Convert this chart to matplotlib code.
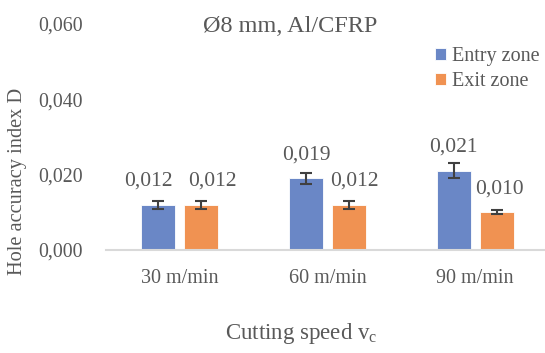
import matplotlib
matplotlib.use('Agg')
import matplotlib.pyplot as plt
import numpy as np

# values
speeds = ['30 m/min', '60 m/min', '90 m/min']
entry = [0.012, 0.019, 0.021]
entry_err = [0.001, 0.0015, 0.002]
exit_ = [0.012, 0.012, 0.010]
exit_err = [0.001, 0.001, 0.0005]

plt.rcParams['font.family'] = ['Liberation Serif', 'DejaVu Serif']
txt = '#595959'

fig = plt.figure(figsize=(5.45, 3.53), dpi=100)
ax = fig.add_axes([106/545, 1 - 250/353, 443/545, 226/353])

x = np.arange(len(speeds))
w = 0.23
off = 0.145
ekw = dict(ecolor='#404040', elinewidth=1.5, capthick=1.5)
ax.bar(x - off, entry, w, color='#6a87c6', edgecolor='white', linewidth=0.6,
       yerr=entry_err, capsize=4, error_kw=ekw, label='Entry zone', zorder=2)
ax.bar(x + off, exit_, w, color='#f09252', edgecolor='white', linewidth=0.6,
       yerr=exit_err, capsize=4, error_kw=ekw, label='Exit zone', zorder=2)

# data labels, nudged sideways where they would collide (as Excel does)
nudge_entry = [-7, 0, 0]
nudge_exit = [8, 4, 2]
for xs, vals, nud in ((x - off, entry, nudge_entry), (x + off, exit_, nudge_exit)):
    for xi, v, n in zip(xs, vals, nud):
        ax.annotate(f'{v:.3f}'.replace('.', ','), (xi, v), xytext=(n, 17),
                    textcoords='offset points', ha='center', va='center',
                    fontsize=15.5, color=txt)

ax.set_xlim(-0.5, 2.5)
ax.set_ylim(0, 0.06)
ax.set_yticks([0, 0.02, 0.04, 0.06])
ax.set_yticklabels([f'{t:.3f}'.replace('.', ',') for t in [0, 0.02, 0.04, 0.06]])
ax.set_xticks(x)
ax.set_xticklabels(speeds)
ax.tick_params(axis='y', length=0, pad=16.5, labelsize=14.3, labelcolor=txt)
ax.tick_params(axis='x', length=0, pad=14, labelsize=14.5, labelcolor=txt)

for s in ('top', 'right', 'left'):
    ax.spines[s].set_visible(False)
ax.spines['bottom'].set_color('#d9d9d9')
ax.spines['bottom'].set_linewidth(1.5)

fig.text(18/545, 1 - 181/353, 'Hole accuracy index D', rotation=90, ha='center', va='center',
         fontsize=14.7, color=txt)
fig.text(290/545, 1 - 27/353, 'Ø8 mm, Al/CFRP', ha='center', va='center', fontsize=17.5, color=txt)
fig.text(301/545, 1 - 333/353, 'Cutting speed v$_\\mathregular{c}$', ha='center', va='center',
         fontsize=16.5, color=txt)

ax.legend(loc='upper left', bbox_to_anchor=(435/545, 1 - 47/353), bbox_transform=fig.transFigure,
          frameon=False, fontsize=14.5, labelcolor=txt, handlelength=0.55, handleheight=0.55,
          handletextpad=0.3, labelspacing=0.32, borderaxespad=0, borderpad=0)

fig.savefig('out.png', dpi=100)
